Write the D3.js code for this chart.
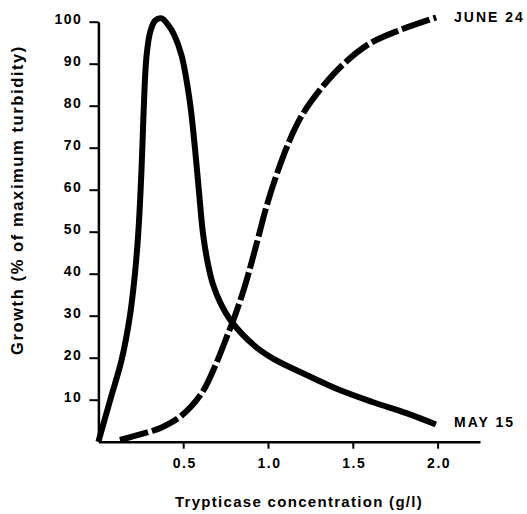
<!DOCTYPE html>
<html>
<head>
<meta charset="utf-8">
<script src="https://cdn.jsdelivr.net/npm/d3@7"></script>
<style>
  body { margin: 0; background: #fff; }
  text { font-family: "Liberation Sans", Arial, sans-serif; font-weight: bold; fill: #000; }
</style>
</head>
<body>
<div id="chart"></div>
<script>
// values: trypticase (g/l) vs growth (% of max turbidity)
const may15X = [0, 0.07, 0.137, 0.186, 0.213, 0.234, 0.249, 0.26, 0.269, 0.283, 0.305, 0.335, 0.373, 0.41, 0.445, 0.49, 0.539, 0.569, 0.592, 0.617, 0.645, 0.675, 0.72, 0.785, 0.922, 1.03, 1.227, 1.423, 1.62, 1.816, 1.99]
const may15Y = [0, 10, 19.5, 30, 39, 49, 60, 71, 81, 91.5, 97.5, 100.3, 100.8, 99.3, 97, 92, 81, 70, 60, 49.5, 42.5, 37.5, 33, 28.6, 22.8, 19.8, 15.9, 12.3, 9.4, 6.8, 4.1]

const june24X = [0.127, 0.304, 0.373, 0.49, 0.608, 0.687, 0.765, 0.805, 0.863, 0.932, 0.991, 1.05, 1.128, 1.197, 1.305, 1.442, 1.6, 1.777, 1.992]
const june24Y = [0.4, 2.4, 3.4, 6.2, 11.5, 17.9, 25.8, 30, 37, 47, 56, 63.5, 71.8, 77.5, 83.7, 89.8, 94.8, 98, 101]

const xTicks = [0.5, 1.0, 1.5, 2.0]
const yTicks = [10, 20, 30, 40, 50, 60, 70, 80, 90, 100]

const width = 527
const height = 514

const svg = d3.select("#chart")
    .append("svg")
    .attr("width", width)
    .attr("height", height)

// scales
const x = d3.scaleLinear().domain([0, 2.25]).range([98.4, 480])
const y = d3.scaleLinear().domain([0, 100]).range([441.7, 21.7])

function tickFont(sel) {
    sel.style("font-size", "14px")
        .style("letter-spacing", "1.5px")
        .style("font-family", "'Liberation Sans', Arial, sans-serif")
        .style("font-weight", "bold")
}

// y axis
const yAxis = svg.append("g")
    .attr("transform", "translate(" + x(0) + ",0)")
    .call(d3.axisLeft(y).tickValues(yTicks).tickSize(9).tickSizeOuter(0).tickPadding(0))
yAxis.select(".domain").attr("stroke-width", 2.5)
yAxis.selectAll(".tick line").attr("stroke-width", 2)
yAxis.selectAll(".tick text")
    .attr("x", -16)
    .attr("dy", "0.1em")
    .call(tickFont)

// x axis
const xAxis = svg.append("g")
    .attr("transform", "translate(0," + y(0) + ")")
    .call(d3.axisBottom(x).tickValues(xTicks).tickFormat(d3.format(".1f")).tickSize(7).tickSizeOuter(0))
xAxis.select(".domain").attr("stroke-width", 2.5)
xAxis.selectAll(".tick line").attr("stroke-width", 2)
xAxis.selectAll(".tick text")
    .attr("y", 26)
    .attr("dy", 0)
    .attr("dx", "1px")
    .call(tickFont)

// curves
const line = d3.line()
    .x((d) => x(d[0]))
    .y((d) => y(d[1]))
    .curve(d3.curveCatmullRom.alpha(0.5))

svg.append("path")
    .datum(may15X.map((v, i) => [v, may15Y[i]]))
    .attr("d", line)
    .attr("fill", "none")
    .attr("stroke", "#000")
    .attr("stroke-width", 6)
    .attr("stroke-linejoin", "round")

svg.append("path")
    .datum(june24X.map((v, i) => [v, june24Y[i]]))
    .attr("d", line)
    .attr("fill", "none")
    .attr("stroke", "#000")
    .attr("stroke-width", 6)
    .attr("stroke-dasharray", "29,4")

// series labels
svg.append("text")
    .attr("x", 454)
    .attr("y", 22)
    .style("font-size", "14px")
    .style("letter-spacing", "2px")
    .text("JUNE 24")

svg.append("text")
    .attr("x", 454)
    .attr("y", 427)
    .style("font-size", "14px")
    .style("letter-spacing", "2px")
    .text("MAY 15")

// axis titles
svg.append("text")
    .attr("x", 299)
    .attr("y", 507)
    .attr("text-anchor", "middle")
    .style("font-size", "15px")
    .style("letter-spacing", "1.3px")
    .text("Trypticase concentration (g/l)")

svg.append("text")
    .attr("transform", "translate(23,200) rotate(-90)")
    .attr("text-anchor", "middle")
    .style("font-size", "16.5px")
    .style("letter-spacing", "1.6px")
    .text("Growth (% of maximum turbidity)")
</script>
</body>
</html>
